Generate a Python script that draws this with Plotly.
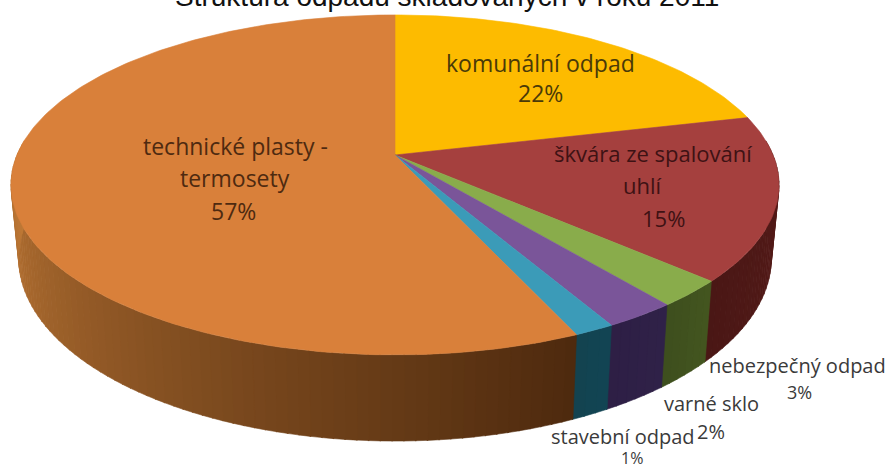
import math
import plotly.graph_objects as go

title = "Struktura odpadů skládovaných v roku 2011"
categories = ["komunální odpad", "škvára ze spalování uhlí", "nebezpečný odpad",
              "varné sklo", "stavební odpad", "technické plasty - termosety"]
# drawn shares (the printed labels are rounded differently)
drawn_share = [21.2, 15.6, 2.55, 2.6, 1.45, 56.6]
printed_pct = ["22%", "15%", "3%", "2%", "1%", "57%"]
top_colors = ["#FDBB00", "#A5403E", "#89AC4B", "#7A5599", "#3B9BB8", "#D9803A"]
wall_from = ["#5C2220", "#5A1E1B", "#43551F", "#2F2148", "#124453", "#4E2A0E"]
wall_to = ["#5C2220", "#4A1715", "#3E4F1E", "#2E1F45", "#134350", "#C47C38"]

label_rows = [
    (540, 63, "komunální odpad", 0, 23), (540, 93, "22%", 0, 23),
    (653, 153, "škvára ze spalování", 1, 22), (642, 185, "uhlí", 1, 22), (663, 218, "15%", 1, 22),
    (235, 146, "technické plasty -", 5, 23), (235, 178, "termosety", 5, 23), (233, 211, "57%", 5, 23),
    (797, 365, "nebezpečný odpad", 2, 20), (799, 392, "3%", 2, 18),
    (711, 403, "varné sklo", 3, 20), (711, 431, "2%", 3, 20),
    (623, 436, "stavební odpad", 4, 20), (632, 458, "1%", 4, 16),
]
text_colors = {0: "#4A3A08", 1: "#3E1214", 2: "#3A3A3A", 3: "#3A3A3A", 4: "#3A3A3A", 5: "#4E2A10"}

CX, CY, RX, RY, K, DEPTH, SHRINK = 395, 155, 378, 164.7, 0.176, 71, 0.98


def top_pt(deg):
    t = math.radians(deg)
    u, v = math.sin(t), -math.cos(t)
    w = 1 - K * v
    return CX + RX * u / w, CY + RY * v / w


def low_pt(deg):
    t = math.radians(deg)
    u, v = math.sin(t), -math.cos(t)
    w = 1 - K * v
    return CX + SHRINK * RX * u / w, CY + RY * v / w + DEPTH / w


def mix(a, b, f):
    ca = [int(a[i:i + 2], 16) for i in (1, 3, 5)]
    cb = [int(b[i:i + 2], 16) for i in (1, 3, 5)]
    return "rgb(%d,%d,%d)" % tuple(round(x + (y - x) * f) for x, y in zip(ca, cb))


fig = go.Figure()
total = sum(drawn_share)
start = 0.0
spans = []
for share in drawn_share:
    end = start + share / total * 360
    spans.append((start, end))
    start = end

# side walls (front half only)
WALL_A, WALL_B = 85.0, 275.0
for (a, b), c0, c1 in zip(spans, wall_from, wall_to):
    lo, hi = max(a, WALL_A), min(b, WALL_B)
    if hi <= lo:
        continue
    n = max(2, int((hi - lo) / 1.5))
    for i in range(n):
        d0 = lo + (hi - lo) * i / n
        d1 = lo + (hi - lo) * (i + 1) / n + 0.15
        p = [top_pt(d0), top_pt(d1), low_pt(d1), low_pt(d0)]
        col = mix(c0, c1, i / max(1, n - 1))
        fig.add_trace(go.Scatter(x=[q[0] for q in p] + [p[0][0]], y=[q[1] for q in p] + [p[0][1]],
                                 mode="lines", fill="toself", fillcolor=col,
                                 line=dict(width=0.6, color=col), hoverinfo="skip"))

# top faces
for (a, b), col, name in zip(spans, top_colors, categories):
    n = max(4, int(b - a))
    pts = [top_pt(a + (b - a) * i / n) for i in range(n + 1)]
    xs = [CX] + [q[0] for q in pts] + [CX]
    ys = [CY] + [q[1] for q in pts] + [CY]
    fig.add_trace(go.Scatter(x=xs, y=ys, mode="lines", fill="toself", fillcolor=col, name=name,
                             line=dict(width=0.6, color=col), hoverinfo="name"))

ann = [dict(x=x, y=y, text=t, xref="x", yref="y", showarrow=False, xanchor="center", yanchor="middle",
            font=dict(family="Open Sans", size=s, color=text_colors[c])) for x, y, t, c, s in label_rows]
ann.append(dict(x=0.4994, y=1, text=title, xref="paper", yref="paper", showarrow=False, xanchor="center",
                yanchor="middle", yshift=4,
                font=dict(family="Liberation Sans", size=28, color="#111111")))

fig.update_layout(width=896, height=468, margin=dict(l=0, r=0, t=0, b=0), showlegend=False,
                  paper_bgcolor="white", plot_bgcolor="white", annotations=ann,
                  xaxis=dict(range=[0, 896], visible=False, fixedrange=True),
                  yaxis=dict(range=[468, 0], visible=False, fixedrange=True))
fig.write_html("out.html", config={"displayModeBar": False},
               post_script="document.body.style.margin='0';document.documentElement.style.overflow='hidden';")
